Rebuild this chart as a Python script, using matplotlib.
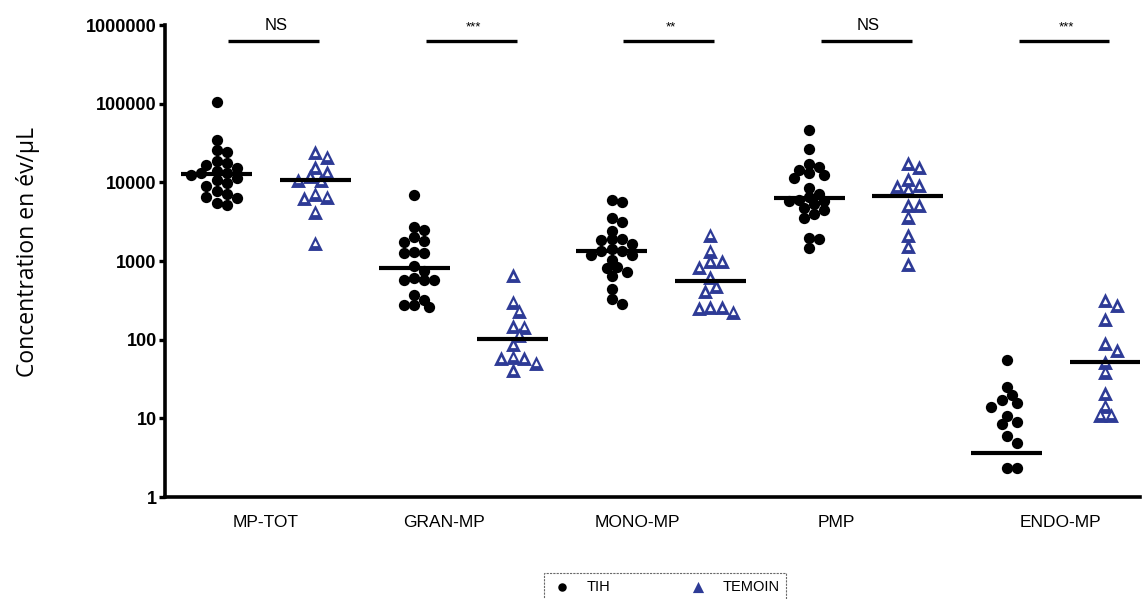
import numpy as np
import matplotlib
matplotlib.use("Agg")
import matplotlib.pyplot as plt
from matplotlib.ticker import FixedLocator, NullLocator

# values (ev/uL); zeros are not visible on log axis
groups = ['MP-TOT', 'GRAN-MP', 'MONO-MP', 'PMP', 'ENDO-MP']
sig = ['NS', '***', '**', 'NS', '***']

tih_mptot = [105000, 34500, 25700, 24000, 18500, 17500, 16500, 15000, 14000, 13300, 13000,
             12500, 11500, 10700, 9800, 9000, 7700, 7200, 6600, 6300, 5400, 5100]
tem_mptot = [24300, 21300, 15600, 13400, 12000, 10800, 10700, 7200, 6600, 6300, 4200, 1700]
tih_gran = [6900, 2680, 2480, 1990, 1770, 1730, 1310, 1270, 1250, 860, 750, 600, 570, 570,
            570, 370, 320, 275, 275, 260]
tem_gran = [660, 303, 233, 149, 146, 115, 88, 61, 58, 58, 51, 41]
tih_mono = [5960, 5640, 3490, 3150, 2420, 1880, 1880, 1850, 1640, 1440, 1330, 1330, 1190,
            1190, 1030, 830, 810, 730, 650, 440, 330, 280]
tem_mono = [2150, 1350, 1000, 1000, 830, 620, 480, 410, 260, 260, 250, 225]
tih_pmp = [46700, 26800, 17300, 15700, 14300, 13300, 12500, 11400, 8500, 7200, 6600, 5960,
           5750, 5750, 5350, 4670, 4420, 4000, 3480, 1970, 1900, 1450]
tem_pmp = [17600, 15500, 11000, 9200, 8900, 8200, 5100, 5100, 3640, 2130, 1540, 915]
tih_endo = [55, 25, 19.9, 17.2, 15.6, 14.1, 10.7, 9.1, 8.5, 5.9, 4.9, 2.33, 2.33,
            0, 0, 0, 0, 0, 0, 0, 0, 0]
tem_endo = [317, 275, 182, 90, 73, 52.5, 39.3, 20.9, 14.5, 11.1, 11.1]

tih = [tih_mptot, tih_gran, tih_mono, tih_pmp, tih_endo]
tem = [tem_mptot, tem_gran, tem_mono, tem_pmp, tem_endo]

label_pos = [0, 0.9, 1.88, 2.89, 4.02]
blue = '#2E3B96'

W, H = 1146, 599
fig = plt.figure(figsize=(W / 100, H / 100), dpi=100)
ax = fig.add_axes([165 / W, 1 - 497 / H, (1140 - 165) / W, (497 - 25) / H])
ax.set_yscale('log')
ax.set_ylim(1, 1e6)
ax.set_xlim(-0.511, 4.425)


def swarm(x0, vals, d):
    # simple beeswarm in pixel space
    vals = np.asarray(vals, float)
    pts = ax.transData.transform(np.column_stack([np.full(len(vals), x0), vals]))
    ys = pts[:, 1]
    px_unit = ax.transData.transform((1, 1))[0] - ax.transData.transform((0, 1))[0]
    order = np.argsort(-vals)
    placed = []
    off = np.zeros(len(vals))
    cands = [0]
    for k in range(1, 14):
        cands += [k * d * 0.6, -k * d * 0.6]
    for i in order:
        for c in cands:
            if all((c - px) ** 2 + (ys[i] - py) ** 2 >= d ** 2 for px, py in placed):
                break
        placed.append((c, ys[i]))
        off[i] = c
    return x0 + off / px_unit


for g in range(len(groups)):
    a = np.asarray(tih[g], float)
    b = np.asarray(tem[g], float)
    a_pos = a[a > 0]
    xa = swarm(g - 0.25, a_pos, 8.5)
    xb = swarm(g + 0.25, b, 9.5)
    ax.scatter(xa, a_pos, marker='o', s=66, color='black', linewidths=0, clip_on=False,
               zorder=3, label='TIH' if g == 0 else None)
    ax.scatter(xb, b, marker='^', s=115, color=blue, linewidths=0, clip_on=False,
               zorder=3, label='TEMOIN' if g == 0 else None)
    ax.scatter(xb, b * 0.985, marker='^', s=14, color='white', linewidths=0, clip_on=False,
               zorder=3.5)
    for vals, x0 in [(a, g - 0.25), (b, g + 0.25)]:
        med = np.median(vals)
        ax.plot([x0 - 0.18, x0 + 0.18], [med, med], color='black', lw=3,
                solid_capstyle='butt', zorder=4)
    # significance bars
    ax.plot([g + 0.04 - 0.23, g + 0.04 + 0.23], [6.2e5, 6.2e5], color='black', lw=2.4,
            clip_on=False, solid_capstyle='butt')
    ax.text(g + 0.05, 7.8e5, sig[g], ha='center', va='bottom',
            fontsize=12 if sig[g] == 'NS' else 9.5, family='Liberation Sans')

for s in ['top', 'right']:
    ax.spines[s].set_visible(False)
for s in ['left', 'bottom']:
    ax.spines[s].set_linewidth(2.6)

ax.yaxis.set_major_locator(FixedLocator([1, 10, 100, 1000, 10000, 100000, 1000000]))
ax.yaxis.set_minor_locator(NullLocator())
ax.set_yticklabels(['1', '10', '100', '1000', '10000', '100000', '1000000'],
                   fontweight='bold', fontsize=13, family='Liberation Sans')
ax.tick_params(axis='y', length=4.5, width=2.4, pad=1.5)
ax.set_xticks(label_pos)
ax.set_xticklabels(groups, fontsize=12.5, family='Liberation Sans')
ax.tick_params(axis='x', length=0, pad=13)

ax.set_ylabel('Concentration en év/µL', fontsize=16.5, family='Open Sans')
ax.yaxis.set_label_coords(-0.128, 0.52)

leg = fig.legend(loc='upper center', bbox_to_anchor=(665 / W, 1 - 573 / H), ncol=2,
                 frameon=True, fancybox=False, prop={'family': 'Liberation Sans', 'size': 10.5},
                 handletextpad=0.9, columnspacing=5.2, borderpad=0.45, handlelength=1.6,
                 borderaxespad=0, markerscale=0.75)
fr = leg.get_frame()
fr.set_edgecolor('#444444')
fr.set_linewidth(0.8)
fr.set_linestyle((0, (2, 1)))

fig.savefig('out.png', dpi=100)
